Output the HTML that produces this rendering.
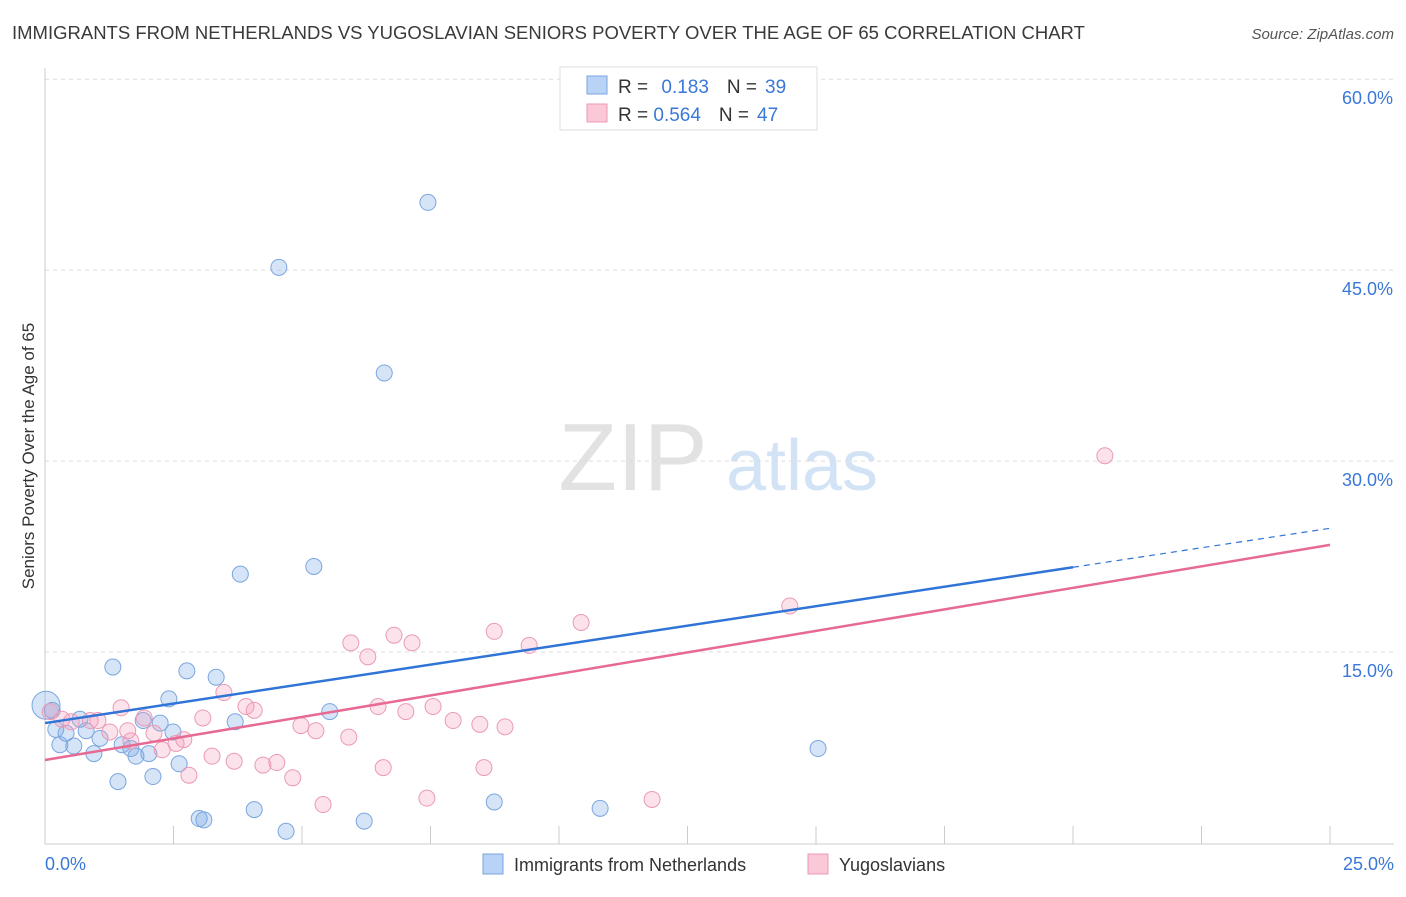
<!DOCTYPE html>
<html><head><meta charset="utf-8">
<style>
body{margin:0;background:#fff;font-family:"Liberation Sans",sans-serif;}
svg text{font-family:"Liberation Sans",sans-serif;}
</style></head>
<body>
<svg id="chart" width="1406" height="892" viewBox="0 0 1406 892" xmlns="http://www.w3.org/2000/svg">
<text x="12" y="39" font-size="18.5" fill="#3a3a3a">IMMIGRANTS FROM NETHERLANDS VS YUGOSLAVIAN SENIORS POVERTY OVER THE AGE OF 65 CORRELATION CHART</text>
<text x="1394" y="39" font-size="15" fill="#555" text-anchor="end" font-style="italic">Source: ZipAtlas.com</text>
<g>
<text x="633" y="490" font-size="96" fill="#e2e2e2" text-anchor="middle" font-family="Liberation Serif, serif">ZIP</text>
<text x="802" y="490" font-size="72" fill="#d3e3f6" text-anchor="middle">atlas</text>
</g>
<g id="grid"></g>
<g id="axes"></g>
<g id="marks"></g>
<text transform="translate(34,456) rotate(-90)" font-size="17" fill="#333" text-anchor="middle">Seniors Poverty Over the Age of 65</text>
<g>
<rect x="560" y="67" width="257" height="63" fill="#fff" stroke="#ddd"/>
<rect x="587" y="76" width="20" height="18" fill="#b8d3f5" stroke="#7aa6e0"/>
<rect x="587" y="104" width="20" height="18" fill="#fbc8d7" stroke="#eb9ab5"/>
<text x="618" y="93" font-size="19" fill="#333">R = <tspan fill="#3a78d8" dx="8">0.183</tspan><tspan dx="18" fill="#333">N =</tspan><tspan dx="8" fill="#3a78d8">39</tspan></text>
<text x="618" y="121" font-size="19" fill="#333">R = <tspan fill="#3a78d8">0.564</tspan><tspan dx="18" fill="#333">N =</tspan><tspan dx="8" fill="#3a78d8">47</tspan></text>
</g>
<g>
<rect x="483" y="854" width="20" height="20" fill="#b8d3f5" stroke="#7aa6e0"/>
<text x="514" y="871" font-size="18" fill="#333">Immigrants from Netherlands</text>
<rect x="808" y="854" width="20" height="20" fill="#fbc8d7" stroke="#eb9ab5"/>
<text x="839" y="871" font-size="18" fill="#333">Yugoslavians</text>
</g>
</svg>
<script>
const yTicks=[15,30,45,60];
const yTickLabels=["15.0%","30.0%","45.0%","60.0%"];
const xTicks=[0,2.5,5,7.5,10,12.5,15,17.5,20,22.5,25];
const blueX=[7.45,4.55,6.6,3.8,5.23,1.32,2.76,3.33,2.41,3.7,5.54,2.24,2.49,1.91,0.68,0.8,0.41,0.21,0.29,0.56,1.07,1.5,1.67,1.77,2.02,0.95,2.61,2.1,1.42,3.0,3.09,4.07,4.69,6.21,8.74,10.8,15.04,0.02,0.14];
const blueY=[50.4,45.3,37.0,21.2,21.8,13.9,13.6,13.1,11.4,9.6,10.4,9.5,8.8,9.7,9.8,8.9,8.7,9.0,7.8,7.7,8.3,7.8,7.5,6.9,7.1,7.1,6.3,5.3,4.9,2.0,1.9,2.7,1.0,1.8,3.3,2.8,7.5,10.9,10.5];
const pinkX=[20.62,14.49,10.43,8.74,9.42,6.79,7.14,5.95,6.28,3.48,1.48,3.91,4.07,6.48,7.02,7.55,3.07,1.93,4.98,5.27,7.94,8.46,8.95,1.03,0.33,0.51,1.61,2.12,2.7,2.55,2.28,1.67,3.25,3.68,4.24,4.51,2.8,4.82,6.58,8.54,5.41,7.43,11.81,5.91,1.26,0.88,0.1];
const pinkY=[30.5,18.7,17.4,16.7,15.6,16.4,15.8,15.8,14.7,11.9,10.7,10.8,10.5,10.8,10.4,10.8,9.9,9.9,9.3,8.9,9.7,9.4,9.2,9.7,9.8,9.6,8.9,8.7,8.2,7.9,7.4,8.1,6.9,6.5,6.2,6.4,5.4,5.2,6.0,6.0,3.1,3.6,3.5,8.4,8.8,9.7,10.4];
const blueTrend=[9.5,24.8];
const pinkTrend=[6.6,23.5];
const NS="http://www.w3.org/2000/svg";
const X=v=>45+v*51.4, Y=v=>844-v*12.73;
function mk(tag,attrs,parent){const e=document.createElementNS(NS,tag);for(const k in attrs)e.setAttribute(k,attrs[k]);parent.appendChild(e);return e;}
const grid=document.getElementById('grid'),axes=document.getElementById('axes'),marks=document.getElementById('marks');
yTicks.forEach((t,i)=>{
 const l=mk('line',{x1:45,x2:1394,y1:Y(t)-1,y2:Y(t)-1,stroke:'#ddd','stroke-dasharray':'4,4'},grid);
 
 
 const tx=mk('text',{x:1393,y:Y(t)+24,'font-size':18,fill:'#3a78d8','text-anchor':'end'},axes);
 tx.textContent=yTickLabels[i];
 
 
});
const ax=mk('line',{x1:45,x2:1394,y1:844,y2:844,stroke:'#ccc'},axes);


const ay=mk('line',{x1:45,x2:45,y1:68,y2:844,stroke:'#ccc'},axes);


xTicks.forEach(t=>{
 const l=mk('line',{x1:X(t),x2:X(t),y1:826,y2:844,stroke:'#ccc'},axes);
 
 
});
const xl0=mk('text',{x:45,y:870,'font-size':18,fill:'#3a78d8'},axes);xl0.textContent='0.0%';


const xl1=mk('text',{x:1394,y:870,'font-size':18,fill:'#3a78d8','text-anchor':'end'},axes);xl1.textContent='25.0%';


blueX.forEach((x,i)=>{
 const r=(i===blueX.length-2)?14:8;
 const c=mk('circle',{cx:X(x),cy:Y(blueY[i]),r:r,fill:'rgba(120,165,230,0.3)',stroke:'#7aa6e0','stroke-width':1},marks);
 
 
});
pinkX.forEach((x,i)=>{
 const c=mk('circle',{cx:X(x),cy:Y(pinkY[i]),r:8,fill:'rgba(245,160,190,0.3)',stroke:'#eb9ab5','stroke-width':1},marks);
 
 
});
const bAt=v=>blueTrend[0]+(blueTrend[1]-blueTrend[0])*v/25;
const bl=mk('line',{x1:X(0),y1:Y(bAt(0)),x2:X(20),y2:Y(bAt(20)),stroke:'#2f74d6','stroke-width':2.5},marks);


const bd=mk('line',{x1:X(20),y1:Y(bAt(20)),x2:X(25),y2:Y(bAt(25)),stroke:'#2f74d6','stroke-width':1.2,'stroke-dasharray':'6,5'},marks);


const pl=mk('line',{x1:X(0),y1:Y(pinkTrend[0]),x2:X(25),y2:Y(pinkTrend[1]),stroke:'#e66a92','stroke-width':2.5},marks);


</script>
</body></html>
